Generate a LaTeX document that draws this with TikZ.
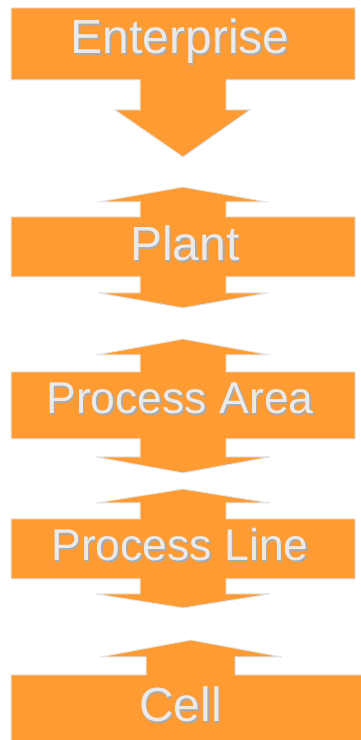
\documentclass[tikz,border=0pt]{standalone}
\usepackage{fontspec}
\setmainfont{Liberation Sans}
\definecolor{boxorange}{RGB}{254,155,50}
\definecolor{rimgray}{RGB}{228,228,228}
\definecolor{txtfill}{RGB}{234,234,234}
\definecolor{txtshadow}{RGB}{170,170,170}
\tikzset{
  callout/.style={fill=boxorange, draw=rimgray, line width=1pt, line join=miter},
  lbl/.style={anchor=base, inner sep=0pt, text=txtfill},
  lblshadow/.style={anchor=base, inner sep=0pt, text=txtshadow},
  big/.style={font=\fontsize{48}{48}\selectfont},
  mid/.style={font=\fontsize{44.5}{44.5}\selectfont}
}
\begin{document}
\begin{tikzpicture}[x=1pt,y=1pt]
\useasboundingbox (0,0) rectangle (361,740);
% Enterprise (down arrow callout)
\path[callout] (11,732) -- (355,732) -- (355,660) -- (226,660) -- (226,630) -- (250,630) -- (183,583) -- (115,630) -- (140,630) -- (140,660) -- (11,660) -- cycle;
% Plant (up-down)
\path[callout] (183,553) -- (267.5,538) -- (226,538) -- (226,523) -- (355,523) -- (355,463) -- (226,463) -- (226,447) -- (267.5,447) -- (183,432) -- (98.5,447) -- (140,447) -- (140,463) -- (11,463) -- (11,523) -- (140,523) -- (140,538) -- (98.5,538) -- cycle;
% Process Area
\path[callout] (183,401) -- (270,385) -- (226,385) -- (226,368) -- (355,368) -- (355,301) -- (226,301) -- (226,283) -- (270,283) -- (183,267) -- (96,283) -- (140,283) -- (140,301) -- (11,301) -- (11,368) -- (140,368) -- (140,385) -- (96,385) -- cycle;
% Process Line
\path[callout] (183,251) -- (270,237) -- (226,237) -- (226,221) -- (355,221) -- (355,161) -- (226,161) -- (226,146) -- (270,146) -- (183,132) -- (96,146) -- (140,146) -- (140,161) -- (11,161) -- (11,221) -- (140,221) -- (140,237) -- (96,237) -- cycle;
% Cell (up arrow callout)
\path[callout] (191,100) -- (282,83) -- (235,83) -- (235,65) -- (362,65) -- (362,-2) -- (11,-2) -- (11,65) -- (146,65) -- (146,83) -- (100,83) -- cycle;
% labels
\node[lblshadow,big] (ents) at (181.5,684.5) {Enterprise};
\node[lbl,big] (ent) at (180,686) {Enterprise};
\node[lblshadow,big] (plants) at (186.5,477.5) {Plant};
\node[lbl,big] (plant) at (185,479) {Plant};
\node[lblshadow,mid] (areas) at (181.5,324.5) {Process Area};
\node[lbl,mid] (area) at (180,326) {Process Area};
\node[lblshadow,mid] (lines) at (181.5,177.5) {Process Line};
\node[lbl,mid] (line) at (180,179) {Process Line};
\node[lblshadow,big] (cells) at (182,16.5) {Cell};
\node[lbl,big] (cell) at (180.5,18) {Cell};
\end{tikzpicture}
\end{document}
